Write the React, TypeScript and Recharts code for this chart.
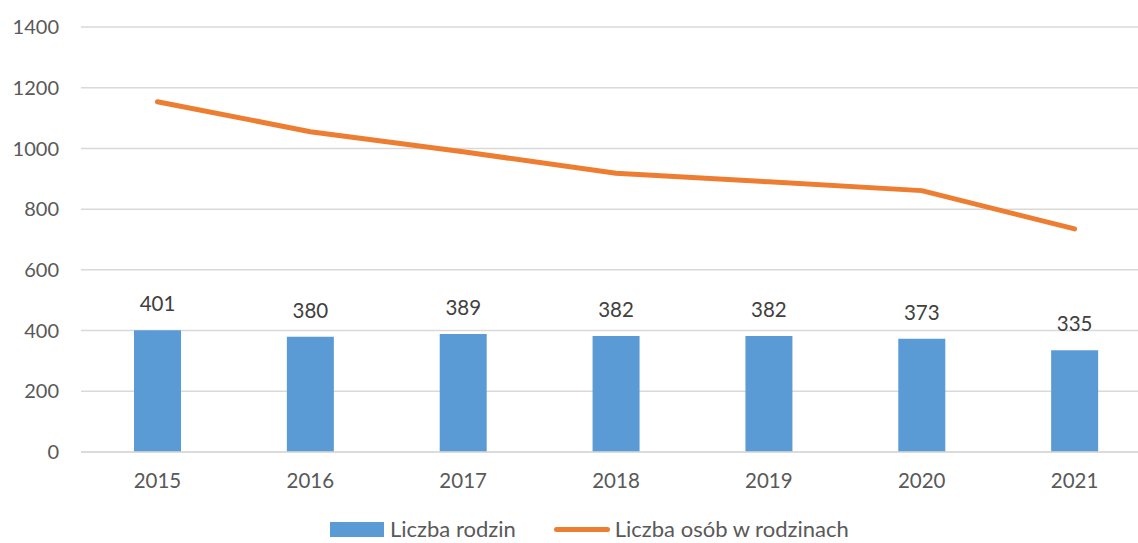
import React from "react";
import {
  ComposedChart,
  Bar,
  Line,
  XAxis,
  YAxis,
  CartesianGrid,
  Legend,
  LabelList,
} from "recharts";

const years = ["2015", "2016", "2017", "2018", "2019", "2020", "2021"];
const families = [401, 380, 389, 382, 382, 373, 335];
const persons = [1154, 1055, 989, 918, 890, 861, 735];
const yTicks = [0, 200, 400, 600, 800, 1000, 1200, 1400];

const FONT = "Lato, 'Liberation Sans', sans-serif";
const BLUE = "#5B9BD5";
const ORANGE = "#ED7D31";
const AXIS_TEXT = "#595959";

const data = years.map((year, i) => ({
  year,
  rodziny: families[i],
  osoby: persons[i],
}));

function LegendBox() {
  return (
    <div
      style={{
        display: "flex",
        alignItems: "center",
        whiteSpace: "nowrap",
        fontFamily: FONT,
        fontSize: 22,
        lineHeight: "24px",
        color: AXIS_TEXT,
      }}
    >
      <span style={{ display: "inline-block", width: 54, height: 15, background: BLUE, marginRight: 6 }} />
      <span>Liczba rodzin</span>
      <span style={{ display: "inline-block", width: 56, height: 5, borderRadius: 3, background: ORANGE, margin: "0 5px 0 38px" }} />
      <span>Liczba osób w rodzinach</span>
    </div>
  );
}

export default function App() {
  return (
    <div
      style={{
        position: "fixed",
        left: 0,
        top: 0,
        width: 1138,
        height: 543,
        overflow: "hidden",
        background: "#fff",
      }}
    >
      <ComposedChart
        width={1160}
        height={543}
        data={data}
        margin={{ top: 27, right: 9, left: 0, bottom: 61 }}
      >
        <CartesianGrid stroke="#D9D9D9" strokeWidth={1.5} vertical={false} />
        <XAxis
          dataKey="year"
          axisLine={{ stroke: "#D9D9D9", strokeWidth: 1.5 }}
          tickLine={false}
          tickSize={0}
          tickMargin={21}
          tick={{ fontSize: 20.5, fill: AXIS_TEXT, fontFamily: FONT }}
        />
        <YAxis
          width={81}
          domain={[0, 1400]}
          ticks={yTicks}
          axisLine={false}
          tickLine={false}
          tickSize={0}
          tickMargin={22}
          tick={{ fontSize: 20, fill: AXIS_TEXT, fontFamily: FONT }}
        />
        <Legend
          verticalAlign="bottom"
          content={() => <LegendBox />}
          wrapperStyle={{ position: "absolute", top: 517, left: 330, width: "auto", height: 0, overflow: "visible" }}
        />
        <Bar dataKey="rodziny" name="Liczba rodzin" fill={BLUE} barSize={47} isAnimationActive={false}>
          <LabelList
            dataKey="rodziny"
            position="top"
            offset={19}
            style={{ fontSize: 20.5, fill: "#404040", fontFamily: FONT }}
          />
        </Bar>
        <Line
          dataKey="osoby"
          name="Liczba osób w rodzinach"
          type="linear"
          stroke={ORANGE}
          strokeWidth={5}
          strokeLinecap="round"
          strokeLinejoin="round"
          dot={false}
          activeDot={false}
          isAnimationActive={false}
        />
      </ComposedChart>
    </div>
  );
}
